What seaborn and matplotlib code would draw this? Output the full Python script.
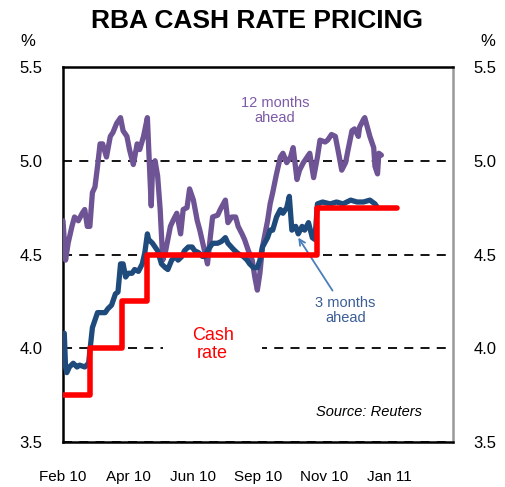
import matplotlib
matplotlib.use("Agg")
import matplotlib.pyplot as plt
import seaborn as sns
import pandas as pd

sns.set_style("white")
plt.rcParams["font.family"] = ["Liberation Sans", "DejaVu Sans"]
plt.rcParams["text.color"] = "black"

# x = trading-day index from 1 Feb 2010
tick_pos = [0, 51, 102, 153, 204, 255]
tick_labels = ["Feb 10", "Apr 10", "Jun 10", "Sep 10", "Nov 10", "Jan 11"]

m12_x = [0, 2, 4, 7, 9, 12, 15, 17, 19, 21, 23, 25, 27, 29, 31, 34, 37, 39, 42, 45,
         47, 50, 52, 55, 58, 60, 63, 66, 67, 69, 70, 72, 74, 76, 78, 80, 84, 86, 89, 92,
         94, 97, 99, 102, 105, 107, 110, 113, 115, 117, 121, 123, 127, 129, 132, 135, 137, 140, 142, 145,
         148, 150, 152, 154, 156, 160, 162, 164, 167, 170, 172, 175, 178, 180, 183, 185, 188, 191, 193, 196,
         199, 201, 205, 207, 210, 213, 215, 218, 221, 223, 226, 228, 231, 232, 235, 236, 238, 240, 243, 244,
         246, 247, 249]
m12_v = [4.68, 4.47, 4.56, 4.65, 4.70, 4.68, 4.72, 4.74, 4.65, 4.65, 4.83, 4.86, 4.97, 5.09, 5.09, 5.02, 5.13, 5.15, 5.20, 5.23,
         5.16, 5.13, 5.06, 4.98, 5.09, 5.06, 5.13, 5.23, 5.07, 4.76, 4.95, 5.00, 4.92, 4.74, 4.47, 4.51, 4.65, 4.68, 4.72, 4.61,
         4.74, 4.75, 4.85, 4.79, 4.68, 4.63, 4.54, 4.45, 4.58, 4.70, 4.71, 4.74, 4.79, 4.67, 4.70, 4.70, 4.65, 4.61, 4.58, 4.52,
         4.47, 4.38, 4.31, 4.40, 4.54, 4.68, 4.77, 4.83, 4.93, 5.02, 5.04, 4.99, 5.02, 5.07, 4.90, 4.95, 4.99, 5.02, 5.04, 4.91,
         5.02, 5.11, 5.10, 5.11, 5.14, 5.13, 5.06, 4.95, 4.99, 5.06, 5.16, 5.17, 5.13, 5.18, 5.22, 5.23, 5.18, 5.13, 5.07, 4.97,
         4.93, 5.04, 5.03]

m3_x = [1, 2, 3, 5, 8, 11, 13, 17, 20, 23, 25, 27, 31, 33, 35, 38, 41, 43, 45, 47,
        49, 51, 54, 56, 59, 62, 64, 66, 67, 70, 72, 74, 77, 80, 82, 85, 88, 90, 93, 95,
        98, 101, 103, 106, 109, 111, 113, 117, 119, 121, 124, 127, 129, 133, 136, 138, 141, 144, 146, 149,
        152, 154, 156, 160, 162, 164, 167, 170, 172, 175, 177, 179, 182, 184, 187, 189, 192, 195, 197, 199,
        203, 209, 214, 219, 225, 230, 235, 240, 244, 246]
m3_v = [4.08, 3.90, 3.87, 3.90, 3.92, 3.90, 3.91, 3.90, 3.92, 4.11, 4.15, 4.19, 4.19, 4.19, 4.21, 4.23, 4.29, 4.30, 4.45, 4.45,
        4.38, 4.40, 4.40, 4.42, 4.41, 4.45, 4.51, 4.61, 4.58, 4.56, 4.54, 4.52, 4.45, 4.43, 4.42, 4.47, 4.49, 4.47, 4.49, 4.52,
        4.54, 4.54, 4.52, 4.51, 4.49, 4.49, 4.52, 4.56, 4.56, 4.56, 4.57, 4.59, 4.56, 4.53, 4.51, 4.50, 4.49, 4.47, 4.45, 4.43,
        4.43, 4.47, 4.54, 4.59, 4.63, 4.63, 4.70, 4.74, 4.72, 4.75, 4.81, 4.63, 4.65, 4.61, 4.65, 4.63, 4.67, 4.59, 4.58, 4.77,
        4.78, 4.77, 4.78, 4.77, 4.79, 4.78, 4.78, 4.79, 4.77, 4.75]

cash_x = [0, 21, 46, 66, 199, 261]
cash_v = [3.75, 4.00, 4.25, 4.50, 4.75, 4.75]

y_ticks = [3.5, 4.0, 4.5, 5.0, 5.5]

PURPLE = "#6E5494"
NAVY = "#1F4A7C"
RED = "#FF0000"

df12 = pd.DataFrame({"day": m12_x, "rate": m12_v})
df3 = pd.DataFrame({"day": m3_x, "rate": m3_v})
dfc = pd.DataFrame({"day": cash_x, "rate": cash_v})

fig = plt.figure(figsize=(5.06, 4.87), dpi=100)
ax = fig.add_axes([0.1245, 0.0924, 0.7707, 0.77])

sns.lineplot(data=df12, x="day", y="rate", ax=ax, color=PURPLE, lw=3.8, zorder=3)
sns.lineplot(data=df3, x="day", y="rate", ax=ax, color=NAVY, lw=3.8, zorder=4)
sns.lineplot(data=dfc, x="day", y="rate", ax=ax, color=RED, lw=4.0, zorder=5,
             drawstyle="steps-post")

ax.set_xlim(0, 305)
ax.set_ylim(3.5, 5.5)
ax.set_xlabel("")
ax.set_ylabel("")
ax.set_yticks(y_ticks)
ax.set_yticklabels([f"{v:.1f}" for v in y_ticks])
ax.set_xticks(tick_pos)
ax.set_xticklabels(tick_labels)

ax.grid(False)
ax.set_axisbelow(True)
ax.yaxis.grid(True, color="black", linestyle=(0, (5, 4)), lw=1.3)

ax.tick_params(axis="x", direction="in", length=5, width=1.5, pad=20,
               labelsize=11, colors="black")
ax.tick_params(axis="y", length=0, pad=15, labelsize=12, colors="black",
               labelright=True, right=False)

for s in ["left", "bottom", "top"]:
    ax.spines[s].set_color("black")
    ax.spines[s].set_linewidth(1.8)
ax.spines["right"].set_color("#999999")
ax.spines["right"].set_linewidth(1.8)

fig.text(0.508, 0.956, "RBA CASH RATE PRICING", ha="center", va="center",
         fontsize=19, fontweight="bold", color="black")
fig.text(0.055, 0.915, "%", ha="center", va="center", fontsize=12, color="black")
fig.text(0.964, 0.915, "%", ha="center", va="center", fontsize=12, color="black")

ax.text(166, 5.27, "12 months\nahead", color="#7D5AA8", fontsize=10.5,
        ha="center", va="center", linespacing=1.1)
ax.text(117, 4.02, "Cash\nrate", color=RED, fontsize=13, ha="center",
        va="center", linespacing=1.1, zorder=2,
        bbox=dict(boxstyle="square,pad=1.6", fc="white", ec="none"))
ax.annotate("3 months\nahead", xy=(184, 4.59), xytext=(221, 4.20),
            color="#3B5E96", fontsize=10.5, ha="center", va="center",
            linespacing=1.1,
            arrowprops=dict(arrowstyle="->", color="#4A7EBB", lw=1.3,
                            shrinkA=2, shrinkB=0))
ax.text(239, 3.66, "Source: Reuters", fontsize=10.5, style="italic",
        ha="center", va="center", color="black")

fig.savefig("out.png", dpi=100)
